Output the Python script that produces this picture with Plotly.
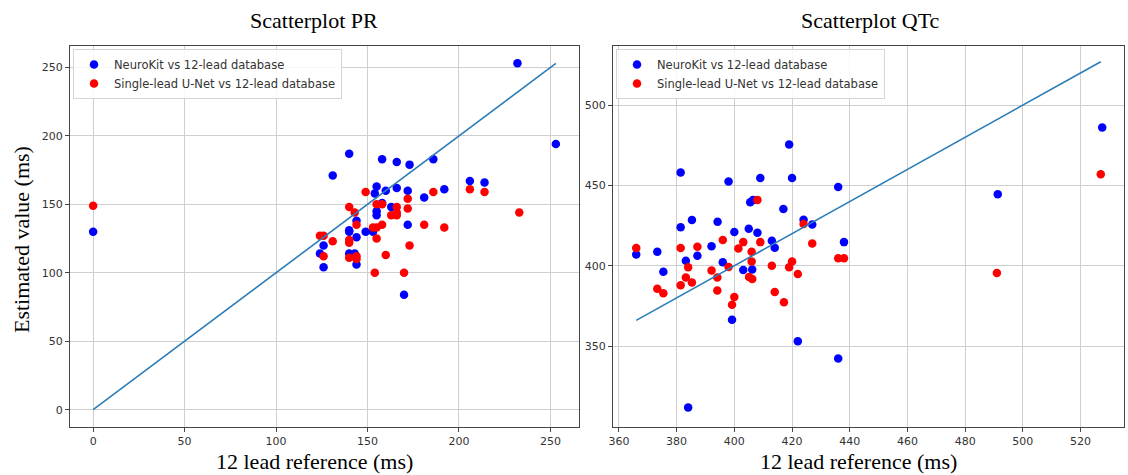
import plotly.graph_objects as go

# ---------------- PR data (ms) ----------------
pr_nk_ref = [140, 158, 166, 173, 186, 131, 206, 214, 155, 154, 160, 166, 172, 181, 192, 158, 163, 155,
             155, 144, 140, 140, 144, 149, 153, 172, 126, 124, 126, 140, 143, 144, 170, 0, 232, 253]
pr_nk_est = [187, 183, 181, 179, 183, 171, 167, 166, 163, 158, 160, 162, 160, 155, 161, 151, 148, 145,
             142, 138, 131, 130, 126, 130, 130, 135, 120, 114, 104, 114, 114, 106, 84, 130, 253, 194]
pr_un_ref = [149, 172, 186, 206, 214, 140, 155, 158, 143, 166, 166, 172, 163, 166, 144, 153, 155, 158,
             181, 192, 124, 126, 131, 140, 140, 155, 173, 126, 140, 144, 144, 160, 154, 170, 0, 233]
pr_un_est = [159, 154, 159, 161, 159, 148, 150, 150, 144, 148, 144, 147, 142, 142, 135, 133, 133, 135,
             135, 133, 127, 127, 123, 124, 122, 125, 120, 112, 111, 112, 110, 113, 100, 100, 149, 144]
pr_line = [0, 253]

# ---------------- QTc data (ms) ----------------
qt_nk_ref = [419, 381.4, 398, 409, 420, 436, 405.5, 406.5, 417, 381.4, 385.3, 394.2, 400, 405, 408, 413,
             424, 427, 438, 366, 373.3, 375.4, 383.2, 387.2, 392.1, 396, 399.2, 403.1, 406.2, 414, 422,
             436, 384, 527.5, 491.3]
qt_nk_est = [475.5, 458, 452.5, 454.6, 454.6, 449, 439.5, 441, 435.3, 424, 428.5, 427.4, 421, 423, 420.5,
             415.5, 428.6, 425.7, 414.7, 407, 408.7, 396.3, 403.1, 406.2, 412.2, 402.1, 366.4, 397.3,
             397.7, 411.2, 353, 342.3, 311.8, 486, 444.5]
qt_un_ref = [408, 424, 366, 373.3, 375.4, 381.4, 384, 383.2, 385.3, 381.4, 387.2, 392.1, 394.1, 394.1,
             396, 398, 399.2, 400, 401.4, 403.1, 406, 406, 405.1, 406.2, 409, 413, 414, 417.2, 419, 420,
             422, 427, 436, 438, 527, 491]
qt_un_est = [441, 426, 411, 385.7, 382.8, 411, 399, 392.7, 389.6, 387.8, 411.8, 397, 392.7, 384.6, 416,
             399.2, 375.7, 380.5, 410.8, 414.7, 408.7, 402.7, 393, 391.7, 414.7, 400, 383.6, 377.2, 399,
             402.7, 394.8, 413.9, 404.6, 404.6, 457, 395.5]
qt_line = [366, 527]

pr_xticks = [0, 50, 100, 150, 200, 250]
pr_yticks = [0, 50, 100, 150, 200, 250]
qt_xticks = [360, 380, 400, 420, 440, 460, 480, 500, 520]
qt_yticks = [350, 400, 450, 500]

labels = ["NeuroKit vs 12-lead database", "Single-lead U-Net vs 12-lead database"]

W, H = 1128, 475
BLUE, RED, LINE = "#0000ff", "#ff0000", "#2a7db8"
MS = 8.5

fig = go.Figure()
# left subplot
fig.add_trace(go.Scatter(x=pr_nk_ref, y=pr_nk_est, mode="markers", name=labels[0],
                         marker=dict(color=BLUE, size=MS, line=dict(width=0)),
                         xaxis="x", yaxis="y", legend="legend"))
fig.add_trace(go.Scatter(x=pr_un_ref, y=pr_un_est, mode="markers", name=labels[1],
                         marker=dict(color=RED, size=MS, line=dict(width=0)),
                         xaxis="x", yaxis="y", legend="legend"))
fig.add_trace(go.Scatter(x=pr_line, y=pr_line, mode="lines", showlegend=False,
                         line=dict(color=LINE, width=1.6), xaxis="x", yaxis="y"))
# right subplot
fig.add_trace(go.Scatter(x=qt_nk_ref, y=qt_nk_est, mode="markers", name=labels[0],
                         marker=dict(color=BLUE, size=MS, line=dict(width=0)),
                         xaxis="x2", yaxis="y2", legend="legend2"))
fig.add_trace(go.Scatter(x=qt_un_ref, y=qt_un_est, mode="markers", name=labels[1],
                         marker=dict(color=RED, size=MS, line=dict(width=0)),
                         xaxis="x2", yaxis="y2", legend="legend2"))
fig.add_trace(go.Scatter(x=qt_line, y=qt_line, mode="lines", showlegend=False,
                         line=dict(color=LINE, width=1.6), xaxis="x2", yaxis="y2"))


def px_x(p):
    return p / W


def px_y(p):
    return 1 - p / H


axis_common = dict(showline=True, mirror=True, linecolor="#444", linewidth=1.2,
                   showgrid=True, gridcolor="#cfcfcf", gridwidth=1, zeroline=False,
                   ticks="outside", ticklen=4, tickcolor="#444", automargin=False,
                   tickfont=dict(family="DejaVu Sans", size=11, color="#333"))

TOP, BOT = 46, 427
legend_common = dict(xanchor="left", yanchor="top",
                     bgcolor="rgba(255,255,255,0.85)", bordercolor="#d5d5d5", borderwidth=1,
                     font=dict(family="DejaVu Sans", size=11.5, color="#333"), tracegroupgap=0)
fig.update_layout(
    width=W, height=H, margin=dict(l=0, r=0, t=0, b=0, autoexpand=False),
    paper_bgcolor="white", plot_bgcolor="white",
    xaxis=dict(domain=[px_x(70), px_x(579)], range=[-12.65, 265.65], tickvals=pr_xticks,
               anchor="y", **axis_common),
    yaxis=dict(domain=[px_y(BOT), px_y(TOP)], range=[-12.65, 265.65], tickvals=pr_yticks,
               anchor="x", **axis_common),
    xaxis2=dict(domain=[px_x(613), px_x(1124)], range=[357.95, 535.05], tickvals=qt_xticks,
                anchor="y2", **axis_common),
    yaxis2=dict(domain=[px_y(BOT), px_y(TOP)], range=[299.6, 536.8], tickvals=qt_yticks,
                anchor="x2", **axis_common),
    legend=dict(x=px_x(73), y=px_y(49), **legend_common),
    legend2=dict(x=px_x(616), y=px_y(49), **legend_common),
)

serif = dict(family="Liberation Serif", size=22, color="black")
ann = [
    dict(text="Scatterplot PR", x=px_x(314), y=px_y(20)),
    dict(text="Scatterplot QTc", x=px_x(870), y=px_y(20)),
    dict(text="12 lead reference (ms)", x=px_x(314), y=px_y(461)),
    dict(text="12 lead reference (ms)", x=px_x(859), y=px_y(461)),
]
for a in ann:
    fig.add_annotation(xref="paper", yref="paper", showarrow=False, xanchor="center",
                       yanchor="middle", font=serif, **a)
fig.add_annotation(text="Estimated value (ms)", xref="paper", yref="paper", x=px_x(21),
                   y=px_y(240), showarrow=False, textangle=-90, xanchor="center",
                   yanchor="middle", font=serif)

fig.write_html("out.html")
